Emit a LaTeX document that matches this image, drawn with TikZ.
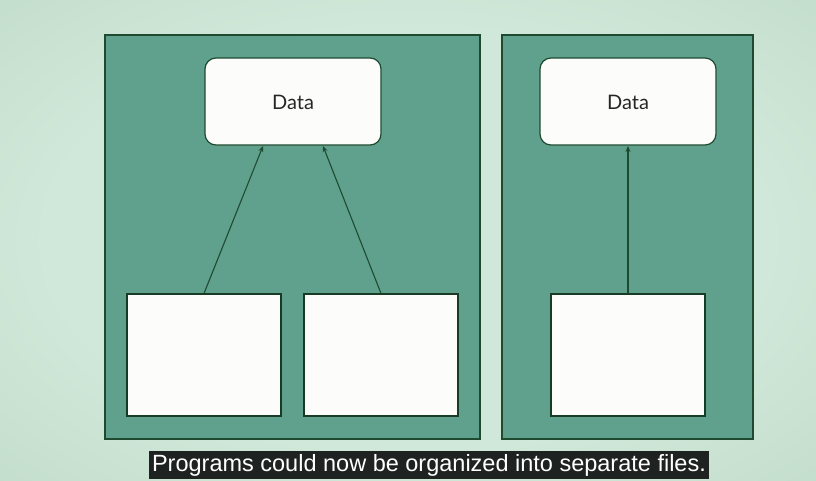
\documentclass[tikz,border=0pt]{standalone}
\usepackage{fontspec}
\setmainfont{Liberation Sans}
\newfontfamily\datafont{Lato}
\usetikzlibrary{arrows.meta}
\definecolor{bgin}{HTML}{D0E8D9}
\definecolor{bgmid}{HTML}{BCD7C5}
\definecolor{bgout}{HTML}{A6C1AE}
\definecolor{panelfill}{HTML}{5FA18D}
\definecolor{edge}{HTML}{1E4A30}
\definecolor{boxfill}{HTML}{FCFCFB}
\definecolor{captionbg}{HTML}{1E2220}
\pgfdeclareradialshading{bgshade}{\pgfpoint{0bp}{0bp}}{color(0bp)=(bgin); color(22bp)=(bgin); color(45bp)=(bgmid); color(62bp)=(bgout); color(72bp)=(bgout)}
\tikzset{
  panel/.style={draw=edge, fill=panelfill, line width=1.2pt},
  databox/.style={draw=edge, fill=boxfill, line width=1.2pt, rounded corners=11pt},
  filebox/.style={draw=edge!80!black, fill=boxfill, line width=1.2pt},
  link/.style={draw=edge, line width=1.1pt, -{Stealth[length=6pt,width=5pt]}},
  datatext/.style={font=\datafont\fontsize{20}{22}\selectfont, text=black!85},
}
\begin{document}
\begin{tikzpicture}[x=1pt,y=-1pt]
\useasboundingbox (0,0) rectangle (816,480);
\shade[shading=bgshade] (0,0) rectangle (816,480);
% panels
\path[panel] (105,35) rectangle (480,439);
\path[panel] (502,35) rectangle (753,439);
% data boxes
\path[databox] (205,58) rectangle (381,145);
\node[datatext] (d1) at (293,102) {Data};
\path[databox] (540,58) rectangle (716,145);
\node[datatext] (d2) at (628,102) {Data};
% file boxes
\node[filebox, minimum width=154pt, minimum height=122pt, inner sep=0pt] (f1) at (204,355) {};
\node[filebox, minimum width=154pt, minimum height=122pt, inner sep=0pt] (f2) at (381,355) {};
\node[filebox, minimum width=154pt, minimum height=122pt, inner sep=0pt] (f3) at (628,355) {};
% arrow targets on data box bottoms
\coordinate (t1) at (263,146);
\coordinate (t2) at (323,146);
\coordinate (t3) at (628,146);
\draw[link] (f1.north) -- (t1);
\draw[link] (f2.north) -- (t2);
\draw[link] (f3.north) -- (t3);
% caption
\node[fill=captionbg, text=white, font=\fontsize{23.5}{26}\selectfont, inner xsep=3pt, inner ysep=2pt, minimum height=28pt] (cap) at (429,465) {Programs could now be organized into separate files.};
\end{tikzpicture}
\end{document}
